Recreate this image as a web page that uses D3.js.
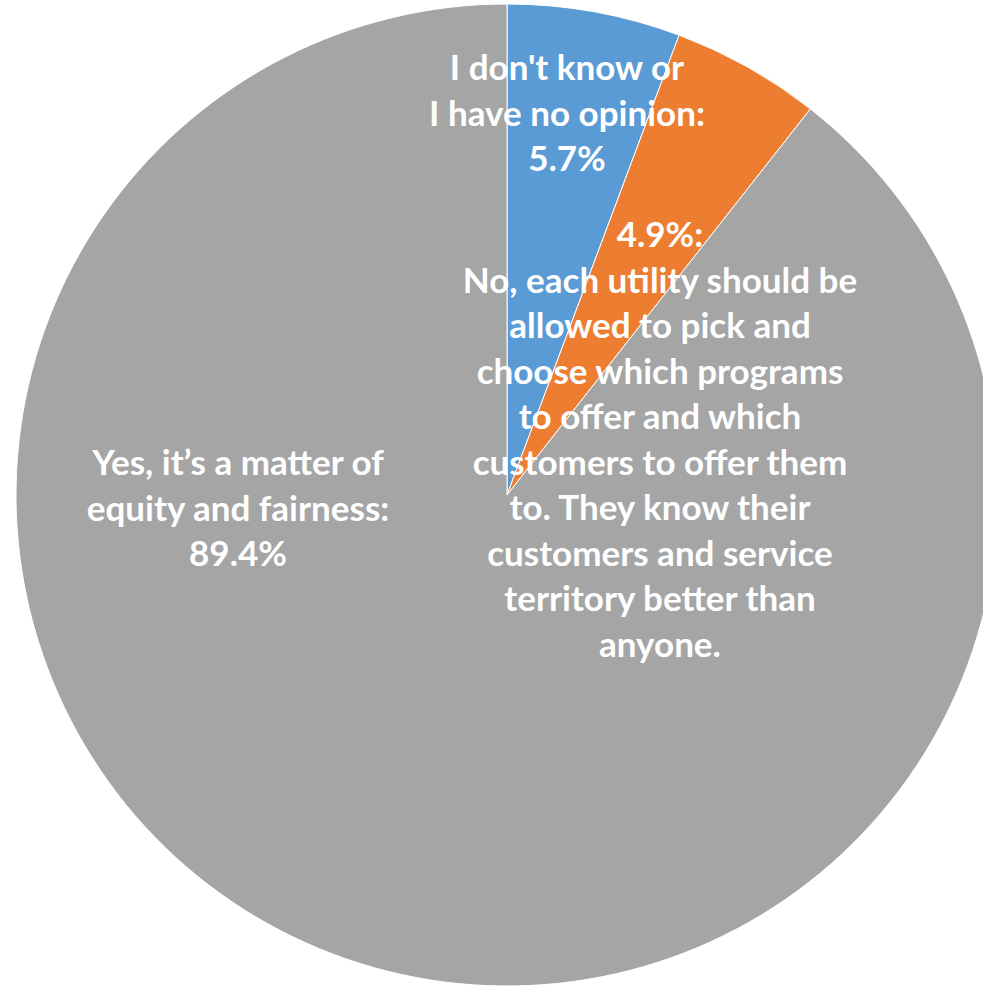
<!DOCTYPE html>
<html><head><meta charset="utf-8">
<script src="https://cdn.jsdelivr.net/npm/d3@7"></script>
<style>html,body{margin:0;padding:0;background:#fff;overflow:hidden}</style>
</head><body><svg id="c" width="983" height="987"></svg>
<script>
const categories = ["I don't know or I have no opinion", "No, each utility should be allowed to pick", "Yes, it’s a matter of equity and fairness"];
const values = [5.7, 4.9, 89.4];
const colors = ["#5B9BD5", "#ED7D31", "#A5A5A5"];
const labelLines = [
  ["I don't know or", "I have no opinion:", "5.7%"],
  ["4.9%:", "No, each utility should be", "allowed to pick and", "choose which programs", "to offer and which", "customers to offer them", "to. They know their", "customers and service", "territory better than", "anyone."],
  ["Yes, it’s a matter of", "equity and fairness:", "89.4%"]
];
const labelPos = [[567, 66], [660, 233], [238, 461]];
const titleText = "Should programs apply to every utility?";

const svg = d3.select("#c");
const cx = 507, cy = 495, r = 491;
const g = svg.append("g").attr("transform", `translate(${cx},${cy})`);
const pie = d3.pie().sort(null).value(d => d)(values);
const arc = d3.arc().innerRadius(0).outerRadius(r);
g.selectAll("path").data(pie).join("path")
  .attr("d", arc).attr("fill", (d, i) => colors[i])
  .attr("stroke", "#fff").attr("stroke-width", 1);

svg.append("text").attr("x", 490).attr("y", -6).attr("text-anchor", "middle")
  .attr("font-family", "Lato, sans-serif").attr("font-weight", "bold").attr("font-size", 34)
  .attr("fill", "#000").text(titleText);

const fs = 35, lh = 45.5;
labelLines.forEach((lines, i) => {
  const t = svg.append("text").attr("text-anchor", "middle")
    .attr("font-family", "Lato, sans-serif").attr("font-weight", "bold")
    .attr("font-size", fs).attr("fill", "#fff");
  lines.forEach((ln, j) => {
    t.append("tspan").attr("x", labelPos[i][0]).attr("y", labelPos[i][1] + j * lh)
      .attr("dominant-baseline", "central").text(ln);
  });
});
</script></body></html>
